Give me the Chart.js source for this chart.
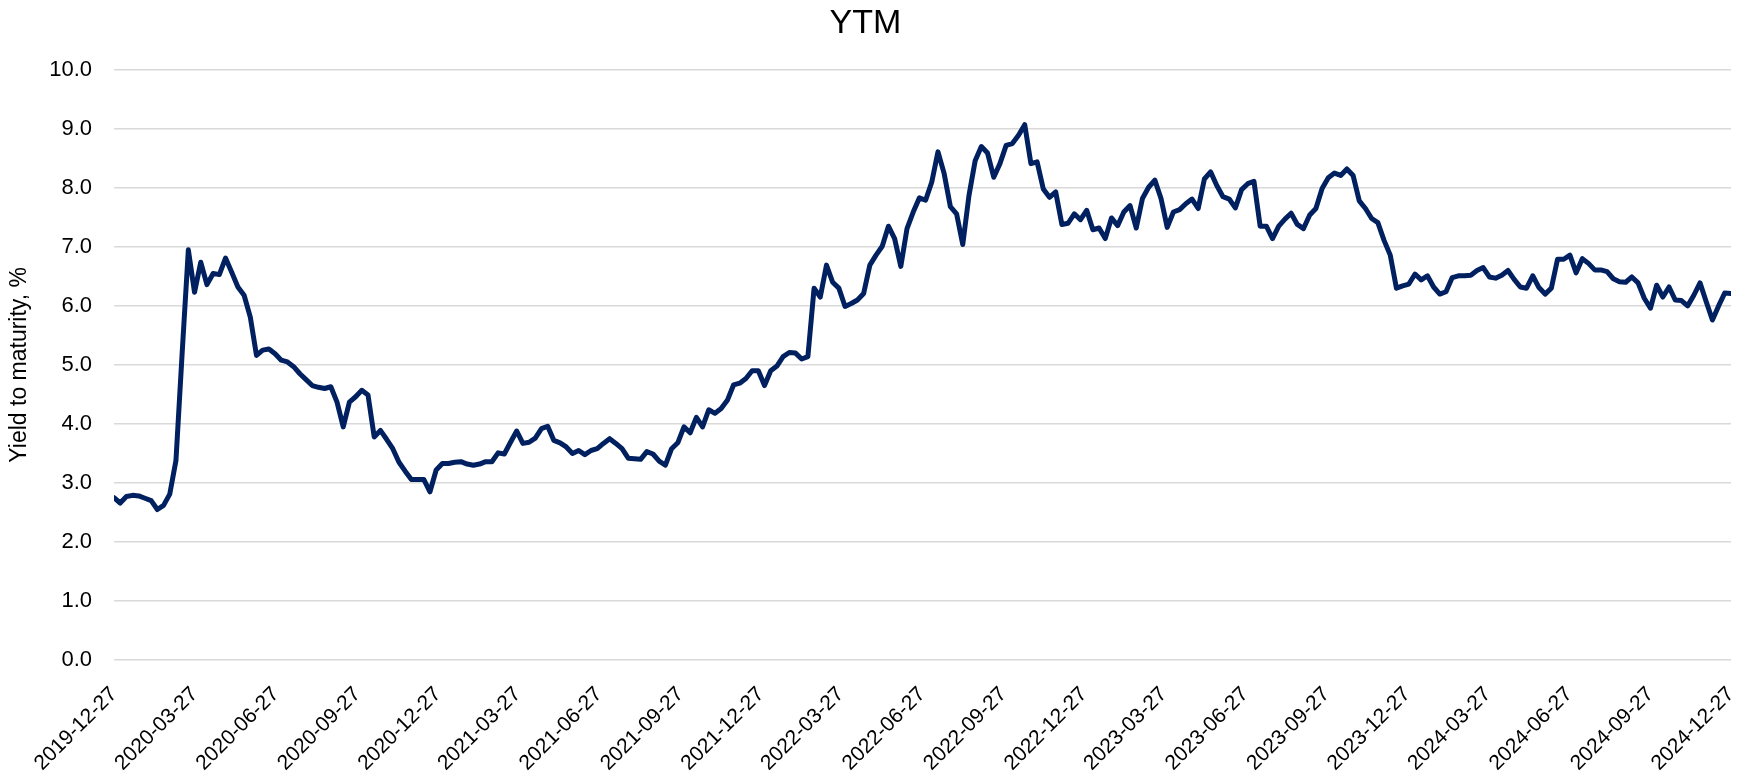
<!DOCTYPE html>
<html>
<head>
<meta charset="utf-8">
<script src="https://cdn.jsdelivr.net/npm/chart.js@4.4.1/dist/chart.umd.min.js"></script>
<style>
  html, body { margin: 0; padding: 0; background: #fff; }
</style>
</head>
<body>
<canvas id="ytm" width="1745" height="774"></canvas>
<script>
// weekly observations, first one on startDate
const startDate = '2019-12-27';
const ytm = [
  2.75, 2.66, 2.77, 2.79, 2.78, 2.74, 2.70, 2.55, 2.62, 2.81,
  3.38, 5.20, 6.95, 6.23, 6.74, 6.36, 6.55, 6.53, 6.81, 6.57,
  6.32, 6.18, 5.81, 5.16, 5.25, 5.27, 5.19, 5.08, 5.05, 4.97,
  4.85, 4.75, 4.65, 4.62, 4.60, 4.63, 4.37, 3.95, 4.37, 4.46,
  4.57, 4.49, 3.78, 3.89, 3.74, 3.58, 3.35, 3.20, 3.06, 3.06,
  3.06, 2.85, 3.22, 3.33, 3.33, 3.35, 3.36, 3.32, 3.30, 3.32,
  3.36, 3.36, 3.51, 3.49, 3.69, 3.88, 3.67, 3.69, 3.76, 3.92,
  3.96, 3.72, 3.68, 3.61, 3.50, 3.55, 3.48, 3.55, 3.58, 3.67,
  3.75, 3.67, 3.58, 3.42, 3.41, 3.40, 3.53, 3.49, 3.37, 3.30,
  3.58, 3.68, 3.95, 3.85, 4.11, 3.95, 4.24, 4.18, 4.26, 4.40,
  4.66, 4.69, 4.77, 4.90, 4.90, 4.65, 4.90, 4.98, 5.14, 5.21,
  5.20, 5.10, 5.14, 6.30, 6.15, 6.69, 6.40, 6.30, 5.99, 6.04,
  6.10, 6.21, 6.69, 6.86, 7.01, 7.35, 7.14, 6.67, 7.31, 7.59,
  7.83, 7.79, 8.10, 8.61, 8.24, 7.68, 7.56, 7.04, 7.87, 8.46,
  8.70, 8.59, 8.18, 8.41, 8.72, 8.75, 8.89, 9.07, 8.41, 8.44,
  7.98, 7.84, 7.93, 7.38, 7.40, 7.56, 7.46, 7.62, 7.29, 7.32,
  7.14, 7.49, 7.36, 7.59, 7.70, 7.32, 7.82, 8.01, 8.13, 7.82,
  7.33, 7.59, 7.63, 7.73, 7.81, 7.65, 8.15, 8.27, 8.04, 7.85,
  7.81, 7.66, 7.97, 8.07, 8.11, 7.35, 7.35, 7.14, 7.35, 7.47,
  7.57, 7.38, 7.31, 7.54, 7.65, 7.99, 8.17, 8.25, 8.21, 8.32,
  8.21, 7.78, 7.65, 7.48, 7.41, 7.11, 6.86, 6.30, 6.34, 6.37,
  6.54, 6.44, 6.51, 6.32, 6.20, 6.24, 6.48, 6.51, 6.51, 6.52,
  6.60, 6.65, 6.49, 6.47, 6.52, 6.60, 6.45, 6.32, 6.30, 6.51,
  6.31, 6.20, 6.30, 6.79, 6.79, 6.86, 6.56, 6.80, 6.72, 6.61,
  6.61, 6.58, 6.46, 6.41, 6.40, 6.49, 6.39, 6.13, 5.96, 6.35,
  6.15, 6.32, 6.10, 6.09, 6.00, 6.18, 6.39, 6.07, 5.76, 6.00,
  6.22, 6.21
];
const tickDates = [
  '2019-12-27', '2020-03-27', '2020-06-27', '2020-09-27', '2020-12-27',
  '2021-03-27', '2021-06-27', '2021-09-27', '2021-12-27', '2022-03-27',
  '2022-06-27', '2022-09-27', '2022-12-27', '2023-03-27', '2023-06-27',
  '2023-09-27', '2023-12-27', '2024-03-27', '2024-06-27', '2024-09-27',
  '2024-12-27'
];

const DAY = 86400000;
const t0 = Date.parse(startDate);
function dayOf(s) { return Math.round((Date.parse(s) - t0) / DAY); }

const points = ytm.map((v, i) => ({ x: i * 7, y: v }));
const tickDays = tickDates.map(dayOf);

const FONT = 'Liberation Sans';
const ctx = document.getElementById('ytm');

new Chart(ctx, {
  type: 'line',
  data: {
    datasets: [{
      data: points,
      borderColor: '#002060',
      borderWidth: 5,
      pointRadius: 0,
      tension: 0,
      borderJoinStyle: 'round',
      borderCapStyle: 'round',
    }],
  },
  options: {
    responsive: false,
    animation: false,
    layout: { padding: { left: 0, right: 14, top: 0, bottom: 0 } },
    plugins: {
      legend: { display: false },
      tooltip: { enabled: false },
      title: {
        display: true,
        text: 'YTM',
        color: '#000',
        font: { family: FONT, size: 34, weight: 'normal' },
        padding: { top: 3, bottom: 26 },
      },
    },
    scales: {
      x: {
        type: 'linear',
        min: 0,
        max: dayOf(tickDates[tickDates.length - 1]),
        grid: { display: false },
        border: { display: false },
        afterBuildTicks: (scale) => {
          scale.ticks = tickDays.map(d => ({ value: d }));
        },
        afterFit: (scale) => {
          scale.height = 114;
          scale.paddingLeft = 0;
          scale.paddingRight = 0;
        },
        ticks: {
          autoSkip: false,
          minRotation: 45,
          maxRotation: 45,
          padding: 14,
          color: '#000',
          font: { family: FONT, size: 21 },
          callback: (v) => tickDates[tickDays.indexOf(v)],
        },
      },
      y: {
        min: 0,
        max: 10,
        border: { display: false },
        grid: { color: '#d9d9d9', lineWidth: 1.5, drawTicks: false },
        afterFit: (scale) => { scale.width = 114; },
        ticks: {
          stepSize: 1,
          padding: 22,
          color: '#000',
          font: { family: FONT, size: 22 },
          callback: (v) => v.toFixed(1),
        },
        title: {
          display: true,
          text: 'Yield to maturity, %',
          color: '#000',
          font: { family: FONT, size: 23 },
          padding: { top: 6, bottom: 0 },
        },
      },
    },
  },
});
</script>
</body>
</html>
